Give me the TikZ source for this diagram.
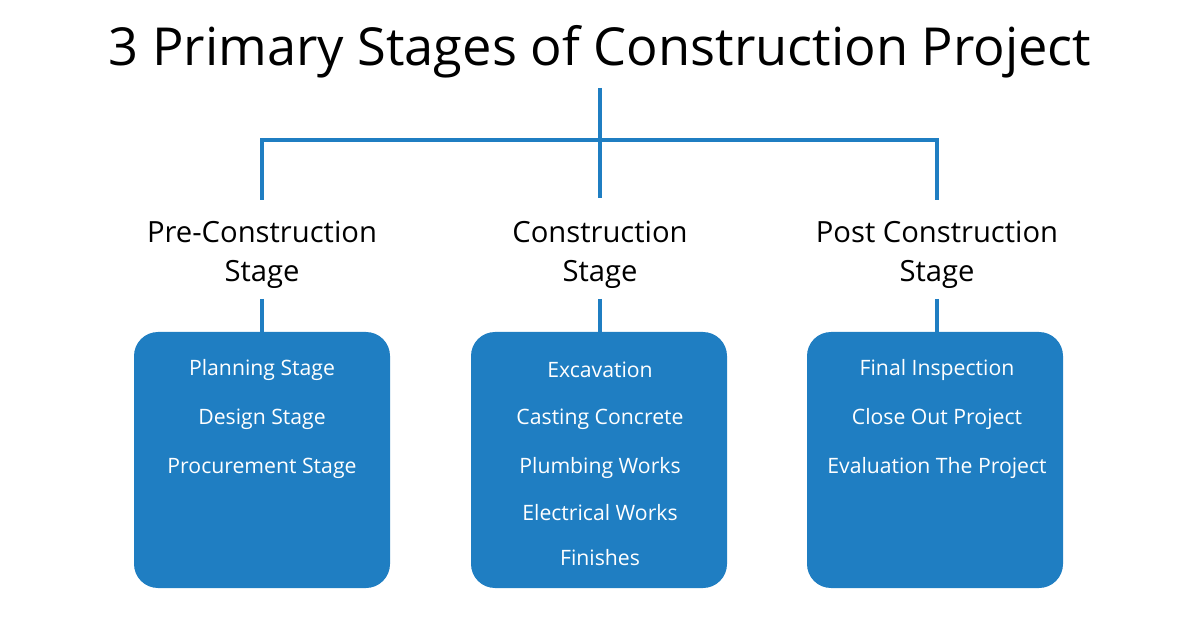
\documentclass[tikz,border=0pt]{standalone}
\usepackage{fontspec}
\setmainfont{Open Sans}
\definecolor{cblue}{HTML}{1F7EC2}
\begin{document}
\begin{tikzpicture}[x=0.5pt,y=-0.5pt,
  line/.style={draw=cblue,line width=2pt},
  box/.style={fill=cblue,rounded corners=12pt},
  stage/.style={align=center,font=\fontsize{14.6pt}{19.5pt}\selectfont,text=black},
  item/.style={text=white,font=\fontsize{10.6pt}{12pt}\selectfont}]
\useasboundingbox (0,0) rectangle (1200,620);
\node (title) at (600,52) {\fontsize{26.2pt}{30pt}\selectfont 3 Primary Stages of Construction Project};
\coordinate (top) at (600,88);
\coordinate (mid) at (600,140);
\coordinate (l) at (262,140);
\coordinate (r) at (937,140);
\coordinate (ld) at (262,200);
\coordinate (md) at (600,198);
\coordinate (rd) at (937,200);
\draw[line] (top) -- (mid);
\draw[line] (ld) -- (l) -- (r) -- (rd);
\draw[line] (mid) -- (md);
\node[stage] (s1) at (262,255) {Pre-Construction\\Stage};
\node[stage] (s2) at (600,255) {Construction\\Stage};
\node[stage] (s3) at (937,255) {Post Construction\\Stage};
\fill[box] (134,332) rectangle (390,588);
\fill[box] (471,332) rectangle (727,588);
\fill[box] (807,332) rectangle (1063,588);
\coordinate (b1) at (262,332);
\coordinate (b2) at (600,332);
\coordinate (b3) at (937,332);
\coordinate (a1) at (262,299);
\coordinate (a2) at (600,299);
\coordinate (a3) at (937,299);
\draw[line] (a1) -- (b1);
\draw[line] (a2) -- (b2);
\draw[line] (a3) -- (b3);
\node[item] (p1) at (262,370) {Planning Stage};
\node[item] (p2) at (262,419) {Design Stage};
\node[item] (p3) at (262,468) {Procurement Stage};
\node[item] (c1) at (600,370) {Excavation};
\node[item] (c2) at (600,419) {Casting Concrete};
\node[item] (c3) at (600,468) {Plumbing Works};
\node[item] (c4) at (600,513) {Electrical Works};
\node[item] (c5) at (600,558) {Finishes};
\node[item] (q1) at (937,370) {Final Inspection};
\node[item] (q2) at (937,419) {Close Out Project};
\node[item] (q3) at (937,468) {Evaluation The Project};
\end{tikzpicture}
\end{document}
